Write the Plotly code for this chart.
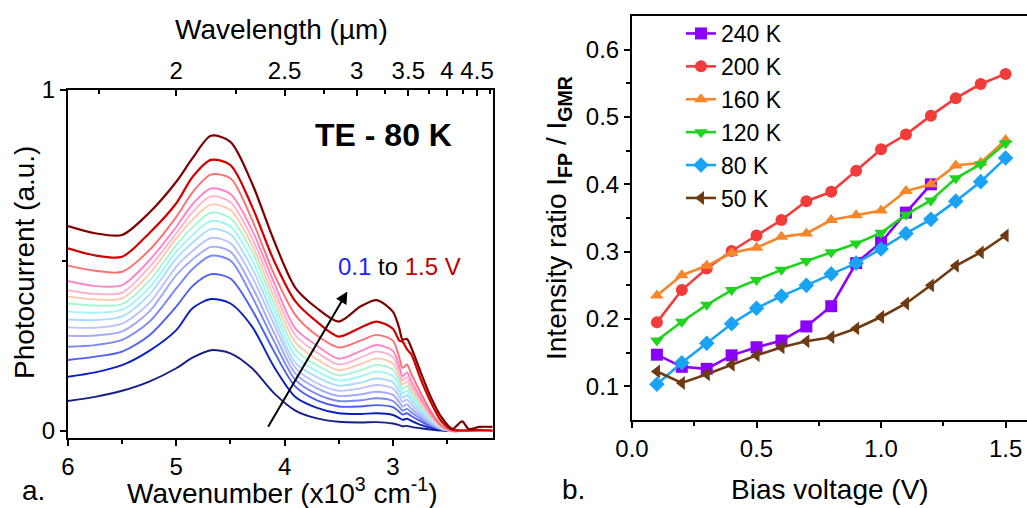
import plotly.graph_objects as go

# ---------------- data: panel a (photocurrent spectra) ----------------
wavenumber = [6.0, 5.75, 5.5, 5.25, 5.0, 4.85, 4.68, 4.5, 4.3, 4.1, 3.9, 3.7, 3.5, 3.3,
              3.15, 3.0, 2.94, 2.91, 2.87, 2.83, 2.74, 2.65, 2.55, 2.45, 2.36, 2.3, 2.2, 2.08]

pc_01 = [0.088, 0.100, 0.118, 0.145, 0.184, 0.215, 0.237, 0.228, 0.184, 0.112, 0.060, 0.037, 0.027, 0.025,
         0.026, 0.022, 0.017, 0.014, 0.015, 0.012, 0.008, 0.004, 0.001, 0.0, 0.0, 0.0, 0.0, 0.0]
pc_02 = [0.159, 0.172, 0.193, 0.235, 0.296, 0.360, 0.387, 0.374, 0.306, 0.190, 0.100, 0.068, 0.052, 0.050,
         0.052, 0.047, 0.038, 0.033, 0.036, 0.030, 0.018, 0.009, 0.003, 0.0, 0.0, 0.0, 0.0, 0.0]
pc_03 = [0.208, 0.218, 0.233, 0.280, 0.365, 0.425, 0.460, 0.447, 0.355, 0.235, 0.130, 0.090, 0.072, 0.072,
         0.076, 0.070, 0.056, 0.048, 0.052, 0.044, 0.028, 0.014, 0.004, 0.0, 0.0, 0.0, 0.0, 0.0]
pc_04 = [0.247, 0.252, 0.267, 0.320, 0.418, 0.475, 0.514, 0.500, 0.394, 0.265, 0.150, 0.108, 0.088, 0.090,
         0.096, 0.088, 0.070, 0.060, 0.065, 0.055, 0.035, 0.018, 0.005, 0.0, 0.0, 0.0, 0.0, 0.0]
pc_05 = [0.279, 0.280, 0.292, 0.350, 0.457, 0.503, 0.540, 0.526, 0.423, 0.290, 0.168, 0.125, 0.103, 0.107,
         0.115, 0.106, 0.085, 0.072, 0.078, 0.066, 0.042, 0.021, 0.006, 0.0, 0.0, 0.0, 0.0, 0.0]
pc_06 = [0.304, 0.303, 0.315, 0.375, 0.482, 0.528, 0.566, 0.551, 0.452, 0.315, 0.185, 0.140, 0.118, 0.125,
         0.135, 0.125, 0.100, 0.086, 0.092, 0.078, 0.050, 0.025, 0.007, 0.0, 0.0, 0.0, 0.0, 0.0]
pc_07 = [0.327, 0.325, 0.336, 0.400, 0.506, 0.552, 0.592, 0.577, 0.477, 0.335, 0.200, 0.158, 0.133, 0.142,
         0.154, 0.143, 0.115, 0.098, 0.105, 0.090, 0.058, 0.029, 0.008, 0.0, 0.0, 0.0, 0.0, 0.0]
pc_08 = [0.350, 0.347, 0.356, 0.420, 0.526, 0.575, 0.616, 0.600, 0.501, 0.355, 0.220, 0.175, 0.148, 0.160,
         0.174, 0.162, 0.130, 0.110, 0.118, 0.100, 0.065, 0.033, 0.009, 0.0, 0.0, 0.0, 0.0, 0.0]
pc_09 = [0.374, 0.368, 0.372, 0.440, 0.545, 0.597, 0.640, 0.624, 0.526, 0.375, 0.240, 0.192, 0.163, 0.178,
         0.194, 0.180, 0.145, 0.123, 0.132, 0.112, 0.072, 0.037, 0.010, 0.0, 0.0, 0.0, 0.0, 0.0]
pc_10 = [0.394, 0.386, 0.389, 0.460, 0.565, 0.620, 0.664, 0.648, 0.545, 0.395, 0.260, 0.210, 0.178, 0.196,
         0.213, 0.198, 0.160, 0.136, 0.145, 0.123, 0.080, 0.041, 0.011, 0.0, 0.0, 0.0, 0.0, 0.0]
pc_11 = [0.413, 0.402, 0.406, 0.480, 0.580, 0.642, 0.688, 0.671, 0.565, 0.415, 0.280, 0.230, 0.195, 0.215,
         0.233, 0.217, 0.175, 0.148, 0.158, 0.135, 0.088, 0.045, 0.012, 0.0, 0.0, 0.0, 0.0, 0.0]
pc_12 = [0.440, 0.425, 0.428, 0.500, 0.599, 0.665, 0.711, 0.695, 0.589, 0.437, 0.300, 0.250, 0.212, 0.234,
         0.252, 0.235, 0.190, 0.160, 0.172, 0.147, 0.095, 0.050, 0.014, 0.0, 0.0, 0.0, 0.0, 0.0]
pc_13 = [0.485, 0.470, 0.467, 0.530, 0.628, 0.700, 0.752, 0.741, 0.619, 0.462, 0.340, 0.280, 0.245, 0.265,
         0.282, 0.265, 0.215, 0.185, 0.195, 0.168, 0.110, 0.058, 0.016, 0.0, 0.0, 0.0, 0.0, 0.0]
pc_14 = [0.536, 0.515, 0.511, 0.580, 0.668, 0.745, 0.795, 0.780, 0.658, 0.501, 0.380, 0.320, 0.277, 0.303,
         0.321, 0.300, 0.265, 0.262, 0.240, 0.225, 0.150, 0.085, 0.028, 0.004, 0.002, 0.002, 0.003, 0.002]
pc_15 = [0.601, 0.580, 0.575, 0.640, 0.731, 0.800, 0.866, 0.848, 0.726, 0.560, 0.420, 0.360, 0.321, 0.365,
         0.384, 0.350, 0.300, 0.268, 0.270, 0.245, 0.170, 0.100, 0.040, 0.006, 0.028, 0.006, 0.012, 0.012]

spectra = [pc_01, pc_02, pc_03, pc_04, pc_05, pc_06, pc_07, pc_08, pc_09, pc_10,
           pc_11, pc_12, pc_13, pc_14, pc_15]
bias_labels = ["0.1", "0.2", "0.3", "0.4", "0.5", "0.6", "0.7", "0.8", "0.9", "1.0",
               "1.1", "1.2", "1.3", "1.4", "1.5"]
spectra_colors = ["#13208a", "#0a1fc0", "#4d5ff0", "#7a88f6", "#a2aafa", "#b9c3ff", "#a9dcff",
                  "#a0f6f6", "#a8f5d2", "#ffc9ad", "#ffb3cf", "#ff85c6", "#ff6f6f", "#d40000", "#7f0000"]

wavelength_ticks = [2, 2.5, 3, 3.5, 4, 4.5]
wavelength_tick_text = ["2", "2.5", "3", "3.5", "4", "4.5"]
wavelength_minor = [1.75, 2.25, 2.75, 3.25, 3.75, 4.25, 4.75]

# ---------------- data: panel b (intensity ratio) ----------------
bias = [0.1, 0.2, 0.3, 0.4, 0.5, 0.6, 0.7, 0.8, 0.9, 1.0, 1.1, 1.2, 1.3, 1.4, 1.5]
r240 = [0.147, 0.129, 0.126, 0.146, 0.158, 0.168, 0.189, 0.219, 0.283, 0.314, 0.358, 0.400]
r200 = [0.195, 0.243, 0.275, 0.301, 0.324, 0.347, 0.375, 0.389, 0.420, 0.452, 0.474, 0.502, 0.528, 0.549, 0.564]
r160 = [0.235, 0.265, 0.279, 0.298, 0.306, 0.322, 0.327, 0.347, 0.354, 0.361, 0.390, 0.400, 0.428, 0.432, 0.466]
r120 = [0.168, 0.196, 0.221, 0.243, 0.258, 0.273, 0.286, 0.299, 0.312, 0.328, 0.355, 0.376, 0.409, 0.430, 0.461]
r80 = [0.103, 0.135, 0.164, 0.193, 0.216, 0.234, 0.250, 0.267, 0.283, 0.304, 0.327, 0.348, 0.375, 0.404, 0.439]
r50 = [0.122, 0.105, 0.118, 0.132, 0.146, 0.158, 0.167, 0.173, 0.186, 0.203, 0.223, 0.250, 0.279, 0.299, 0.324]

series_b = [("240 K", r240, "#8B00FF", "square"),
            ("200 K", r200, "#F23C3C", "circle"),
            ("160 K", r160, "#F5862A", "triangle-up"),
            ("120 K", r120, "#1ED41E", "triangle-down"),
            ("80 K", r80, "#1AA3F5", "diamond"),
            ("50 K", r50, "#703A10", "triangle-left")]

# ---------------- figure ----------------
W, H = 1027, 508
FONT = "Liberation Sans, Arial, sans-serif"


def px(x):
    return x / W


def py(y):
    return 1 - y / H


fig = go.Figure()

for vals, col, lab in zip(spectra, spectra_colors, bias_labels):
    fig.add_trace(go.Scatter(
        x=wavenumber, y=vals, mode="lines", name=lab + " V",
        line=dict(color=col, width=2.2 if lab in ("1.4", "1.5") else 1.9, shape="spline", smoothing=0.8),
        xaxis="x", yaxis="y", showlegend=False))

# invisible carrier trace so the top (wavelength) axis is drawn
fig.add_trace(go.Scatter(x=wavenumber, y=pc_15, mode="lines", line=dict(width=0, color="rgba(0,0,0,0)"),
                         xaxis="x3", yaxis="y", showlegend=False, hoverinfo="skip"))

for name, vals, col, sym in series_b:
    fig.add_trace(go.Scatter(
        x=bias[:len(vals)], y=vals, mode="lines+markers", name=name,
        line=dict(color=col, width=2.6),
        marker=dict(symbol=sym, size=12, color=col),
        xaxis="x2", yaxis="y2"))

axis_common = dict(showline=True, linewidth=2, linecolor="black", mirror=True,
                   showgrid=False, zeroline=False, ticks="outside", tickwidth=2,
                   ticklen=6, tickcolor="black", automargin=False,
                   tickfont=dict(family=FONT, size=24, color="black"))

fig.update_layout(
    width=W, height=H,
    margin=dict(l=0, r=0, t=0, b=0, autoexpand=False),
    paper_bgcolor="white", plot_bgcolor="white",
    font=dict(family=FONT, color="black"),
    xaxis=dict(domain=[px(68), px(493)], range=[6, 2.075], anchor="y",
               tickvals=[6, 5, 4, 3], ticktext=["6", "5", "4", "3"],
               minor=dict(tickvals=[5.5, 4.5, 3.5, 2.5], ticks="outside", ticklen=4,
                          tickwidth=2, tickcolor="black"),
               **axis_common),
    xaxis3=dict(overlaying="x", side="top", anchor="y", range=[6, 2.075],
                tickvals=[10 / w for w in wavelength_ticks], ticktext=wavelength_tick_text,
                ticks="inside", ticklen=6, tickwidth=2, tickcolor="black",
                minor=dict(tickvals=[10 / w for w in wavelength_minor], ticks="inside",
                           ticklen=4, tickwidth=2, tickcolor="black"),
                showline=False, showgrid=False, zeroline=False, automargin=False,
                ticklabelstandoff=5,
                tickfont=dict(family=FONT, size=24, color="black")),
    yaxis=dict(domain=[py(438), py(90)], range=[-0.0205, 1], anchor="x",
               tickvals=[0, 1], ticktext=["0", "1"],
               minor=dict(tickvals=[0.5], ticks="outside", ticklen=4, tickwidth=2,
                          tickcolor="black"),
               **axis_common),
    xaxis2=dict(domain=[px(632), 1.0], range=[0, 1.586], anchor="y2",
                tickvals=[0, 0.5, 1.0, 1.5], ticktext=["0.0", "0.5", "1.0", "1.5"],
                minor=dict(tickvals=[0.25, 0.75, 1.25], ticks="outside", ticklen=4,
                           tickwidth=2, tickcolor="black"),
                **axis_common),
    yaxis2=dict(domain=[py(420), py(16)], range=[0.05, 0.65], anchor="x2",
                tickvals=[0.1, 0.2, 0.3, 0.4, 0.5, 0.6],
                ticktext=["0.1", "0.2", "0.3", "0.4", "0.5", "0.6"],
                minor=dict(tickvals=[0.15, 0.25, 0.35, 0.45, 0.55], ticks="outside",
                           ticklen=4, tickwidth=2, tickcolor="black"),
                **axis_common),
    legend=dict(x=px(681), y=py(12), xanchor="left", yanchor="top",
                bgcolor="rgba(0,0,0,0)", font=dict(family=FONT, size=23, color="black"),
                itemwidth=30, tracegroupgap=0),
)

ann = [
    dict(text="Wavelength (µm)", x=px(281), y=py(29), size=28),
    dict(text="Wavenumber (x10<sup>3</sup> cm<sup>-1</sup>)", x=px(282), y=py(491), size=28),
    dict(text="Photocurrent (a.u.)", x=px(24), y=py(263), size=28, angle=-90),
    dict(text="a.", x=px(33), y=py(490), size=28),
    dict(text="<b>TE - 80 K</b>", x=px(383), y=py(135), size=32),
    dict(text="Intensity ratio I<sub><b>FP</b></sub> / I<sub><b>GMR</b></sub>",
         x=px(558), y=py(218), size=28, angle=-90),
    dict(text="Bias voltage (V)", x=px(830), y=py(489), size=28),
    dict(text="b.", x=px(573), y=py(489), size=28),
]
for a in ann:
    fig.add_annotation(text=a["text"], x=a["x"], y=a["y"], xref="paper", yref="paper",
                       showarrow=False, xanchor="center", yanchor="middle",
                       textangle=a.get("angle", 0),
                       font=dict(family=FONT, size=a["size"], color="black"))

fig.add_annotation(
    text='<span style="color:#1f1fff">0.1</span> to <span style="color:#c00000">1.5 V</span>',
    x=2.94, y=0.481, xref="x", yref="y", showarrow=False,
    font=dict(family=FONT, size=24, color="black"))

fig.add_annotation(x=3.42, y=0.409, ax=4.16, ay=0.008, xref="x", yref="y",
                   axref="x", ayref="y", text="", showarrow=True,
                   arrowhead=2, arrowsize=1.2, arrowwidth=2, arrowcolor="black")

fig.write_html("out.html", config={"displayModeBar": False},
               post_script="document.body.style.margin='0';document.body.style.overflow='hidden';")
